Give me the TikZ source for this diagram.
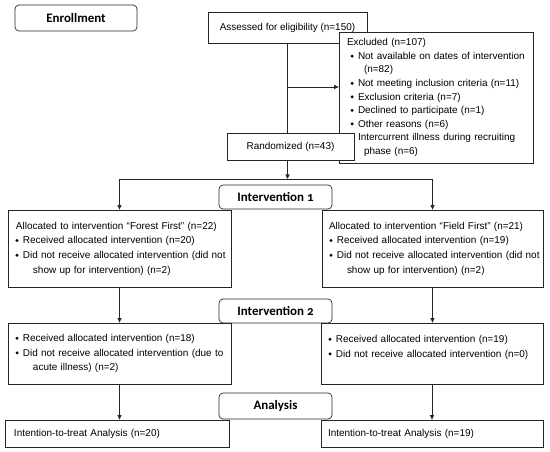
\documentclass[tikz,border=0pt]{standalone}
\usepackage{fontspec}
\setmainfont{Liberation Sans}
\newfontfamily\headfont[Numbers=OldStyle]{Carlito}
\usetikzlibrary{arrows.meta, positioning}
\tikzstyle{box} = [rectangle, draw=black!85, line width=0.7bp, fill=white, inner sep=0pt, font=\fontsize{10}{14.7}\selectfont]
\tikzstyle{txtbox} = [box, align=left]
\tikzstyle{head} = [rectangle, rounded corners=4bp, draw=black!85, line width=0.7bp, fill=white, inner sep=0pt, font=\headfont\bfseries\fontsize{13}{15}\selectfont]
\tikzstyle{arrow} = [line width=0.7bp, draw=black!85, ->, >={Triangle[length=4.5bp,width=4bp]}]
\tikzstyle{line} = [line width=0.7bp, draw=black!85]
\newcommand\ind[1]{\hspace*{#1bp}}
\newcommand\bul{\makebox[7.5bp][l]{\raisebox{1.6bp}{\rotatebox{45}{\rule{2.3bp}{2.3bp}}}}}

\begin{document}
\begin{tikzpicture}[x=1bp,y=-1bp]
\useasboundingbox (0,0) rectangle (550,452);

% headers
\node[head, minimum width=122bp, minimum height=26bp] (enrol) at (76,18) {Enrollment};
\node[head, minimum width=113bp, minimum height=24bp] (int1) at (275.5,197) {Intervention 1};
\node[head, minimum width=113bp, minimum height=24bp] (int2) at (275.5,311) {Intervention 2};
\node[head, minimum width=113bp, minimum height=26bp] (anal) at (275.5,406) {Analysis};

% enrollment
\node[box, minimum width=159bp, minimum height=31bp] (assess) at (287.5,27.5) {Assessed for eligibility (n=150)};
\node[txtbox, text width=192bp, minimum width=194bp, minimum height=131bp, font=\fontsize{10}{13.6}\selectfont] (excl) at (436,97.5) {%
\ind{7}Excluded (n=107)\\
\ind{10.5}\bul Not available on dates of intervention\\
\ind{24}(n=82)\\
\ind{10.5}\bul Not meeting inclusion criteria (n=11)\\
\ind{10.5}\bul Exclusion criteria (n=7)\\
\ind{10.5}\bul Declined to participate (n=1)\\
\ind{10.5}\bul Other reasons (n=6)\\
\ind{10.5}\bul Intercurrent illness during recruiting\\
\ind{24}phase (n=6)};
\node[box, minimum width=127bp, minimum height=27bp] (rand) at (290.5,146.5) {Randomized (n=43)};

% intervention 1
\node[txtbox, text width=221bp, minimum width=223bp, minimum height=77bp] (forest) at (119.5,248.5) {%
\ind{7}Allocated to intervention “Forest First” (n=22)\\
\ind{6.4}\bul Received allocated intervention (n=20)\\
\ind{6.4}\bul Did not receive allocated intervention (did not\\
\ind{24}show up for intervention) (n=2)};
\node[txtbox, text width=219bp, minimum width=221bp, minimum height=77bp] (field) at (432.5,248.5) {%
\ind{6}Allocated to intervention “Field First” (n=21)\\
\ind{6.4}\bul Received allocated intervention (n=19)\\
\ind{6.4}\bul Did not receive allocated intervention (did not\\
\ind{24}show up for intervention) (n=2)};

% intervention 2
\node[txtbox, text width=221bp, minimum width=223bp, minimum height=61bp] (forest2) at (119.5,353.5) {%
\ind{6.4}\bul Received allocated intervention (n=18)\\
\ind{6.4}\bul Did not receive allocated intervention (due to\\
\ind{24}acute illness) (n=2)};
\node[txtbox, text width=220bp, minimum width=222bp, minimum height=61bp] (field2) at (432,353.5) {%
\ind{6.4}\bul Received allocated intervention (n=19)\\
\ind{6.4}\bul Did not receive allocated intervention (n=0)\\
\mbox{}};

% analysis
\node[txtbox, text width=222bp, minimum width=224bp, minimum height=27bp] (anaL) at (117,433.5) {\ind{8}Intention-to-treat Analysis (n=20)};
\node[txtbox, text width=220bp, minimum width=222bp, minimum height=27bp] (anaR) at (432,433.5) {\ind{6}Intention-to-treat Analysis (n=19)};

% connectors
\coordinate (exc) at (287.5,87);
\coordinate (split) at (287.5,179);
\draw[line] (assess.south) -- (assess.south |- rand.north);
\draw[arrow] (exc) -- (exc -| excl.west);
\draw[arrow] (split |- rand.south) -- (split);
\draw[line] (forest.north |- split) -- (field.north |- split);
\draw[arrow] (forest.north |- split) -- (forest.north);
\draw[arrow] (field.north |- split) -- (field.north);
\draw[arrow] (forest.south) -- (forest2.north);
\draw[arrow] (field.south) -- (field.south |- field2.north);
\draw[arrow] (forest2.south) -- (forest2.south |- anaL.north);
\draw[arrow] (field2.south) -- (field2.south |- anaR.north);
\end{tikzpicture}
\end{document}
